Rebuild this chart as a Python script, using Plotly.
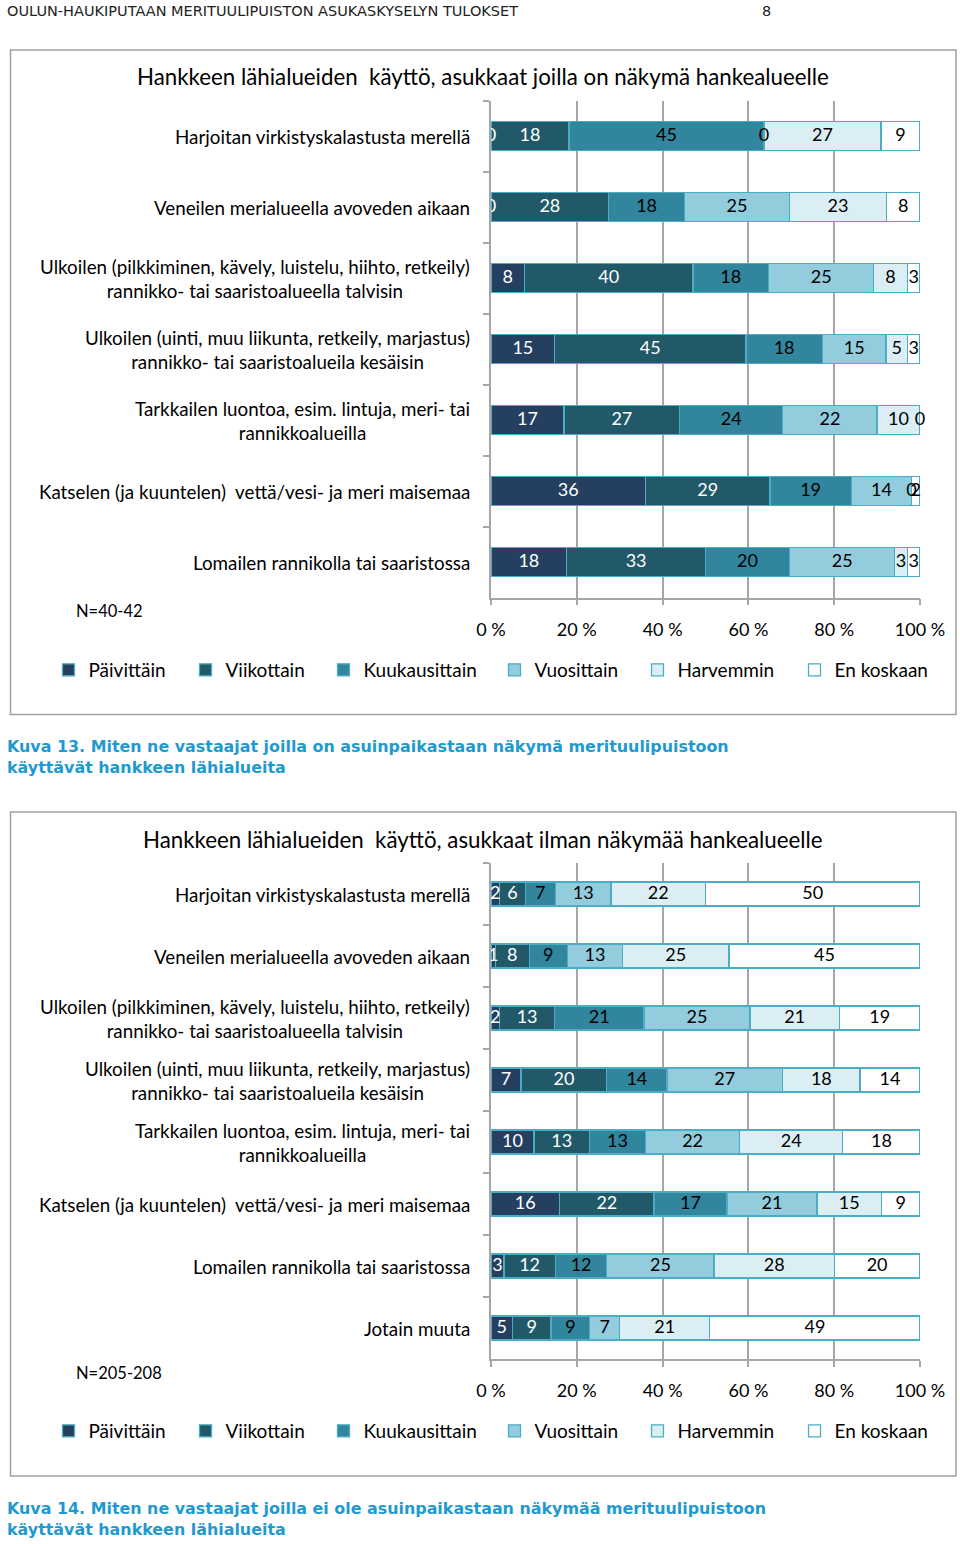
import plotly.graph_objects as go

# ---------------- data ----------------
series = ["Päivittäin", "Viikottain", "Kuukausittain", "Vuosittain", "Harvemmin", "En koskaan"]
colors = ["#243F60", "#215968", "#31859C", "#93CDDD", "#DBEEF4", "#FFFFFF"]
label_colors = ["white", "white", "black", "black", "black", "black"]

cats1 = [
    "Harjoitan virkistyskalastusta merellä",
    "Veneilen merialueella avoveden aikaan",
    "Ulkoilen (pilkkiminen, kävely, luistelu, hiihto, retkeily)<br>rannikko- tai saaristoalueella talvisin",
    "Ulkoilen (uinti, muu liikunta, retkeily, marjastus)<br>rannikko- tai saaristoalueila kesäisin",
    "Tarkkailen luontoa, esim. lintuja, meri- tai<br>rannikkoalueilla",
    "Katselen (ja kuuntelen)  vettä/vesi- ja meri maisemaa",
    "Lomailen rannikolla tai saaristossa",
]
paivittain1 = [0, 0, 8, 15, 17, 36, 18]
viikottain1 = [18, 28, 40, 45, 27, 29, 33]
kuukausittain1 = [45, 18, 18, 18, 24, 19, 20]
vuosittain1 = [0, 25, 25, 15, 22, 14, 25]
harvemmin1 = [27, 23, 8, 5, 10, 0, 3]
en_koskaan1 = [9, 8, 3, 3, 0, 2, 3]

cats2 = cats1 + ["Jotain muuta"]
paivittain2 = [2, 1, 2, 7, 10, 16, 3, 5]
viikottain2 = [6, 8, 13, 20, 13, 22, 12, 9]
kuukausittain2 = [7, 9, 21, 14, 13, 17, 12, 9]
vuosittain2 = [13, 13, 25, 27, 22, 21, 25, 7]
harvemmin2 = [22, 25, 21, 18, 24, 15, 28, 21]
en_koskaan2 = [50, 45, 19, 14, 18, 9, 20, 49]

title1 = "Hankkeen lähialueiden  käyttö, asukkaat joilla on näkymä hankealueelle"
title2 = "Hankkeen lähialueiden  käyttö, asukkaat ilman näkymää hankealueelle"
n1 = "N=40-42"
n2 = "N=205-208"
caption1 = "Kuva 13. Miten ne vastaajat joilla on asuinpaikastaan näkymä merituulipuistoon<br>käyttävät hankkeen lähialueita"
caption2 = "Kuva 14. Miten ne vastaajat joilla ei ole asuinpaikastaan näkymää merituulipuistoon<br>käyttävät hankkeen lähialueita"
header = "OULUN-HAUKIPUTAAN MERITUULIPUISTON ASUKASKYSELYN TULOKSET"
page_no = "8"
tick_vals = [0, 20, 40, 60, 80, 100]
tick_text = ["0 %", "20 %", "40 %", "60 %", "80 %", "100 %"]

data1 = [paivittain1, viikottain1, kuukausittain1, vuosittain1, harvemmin1, en_koskaan1]
data2 = [paivittain2, viikottain2, kuukausittain2, vuosittain2, harvemmin2, en_koskaan2]

# ---------------- layout helpers ----------------
W, H = 960, 1544
FONT = "Lato"
def px(x):
    return x / W
def py(y):
    return 1 - y / H

GRID = "#A6A6A6"
fig = go.Figure()

legend_sym_px = [68.5, 205.5, 343.5, 514.5, 657.5, 814.5]

def add_chart(cats, data, xa, ya, bar_w, legend_offset):
    n = len(cats)
    totals = [sum(d[i] for d in data) for i in range(n)]
    for k, (name, vals) in enumerate(zip(series, data)):
        lg = "legend" if legend_offset + k == 0 else f"legend{legend_offset + k + 1}"
        fig.add_trace(go.Bar(
            y=cats, x=vals, name=name, orientation="h",
            xaxis=xa, yaxis=ya, width=bar_w,
            marker=dict(color=colors[k], line=dict(color="#4BACC6", width=1.3)),
            legend=lg, hoverinfo="x+y+name",
        ))
    # data labels at segment centres (normalised to 100 %)
    xs, ys, ts, cs = [], [], [], []
    for i in range(n):
        cum = 0
        for k, vals in enumerate(data):
            v = vals[i]
            xs.append((cum + v / 2) / totals[i] * 100)
            ys.append(cats[i])
            ts.append(str(v))
            cs.append(label_colors[k])
            cum += v
    fig.add_trace(go.Scatter(
        x=xs, y=ys, text=ts, mode="text", xaxis=xa, yaxis=ya,
        textfont=dict(family=FONT, size=18, color=cs), showlegend=False,
        cliponaxis=False, hoverinfo="skip",
    ))

add_chart(cats1, data1, "x", "y", 0.41, 0)
add_chart(cats2, data2, "x2", "y2", 0.39, 6)

# legends
legends = {}
for c, ly in ((0, 670), (1, 1431)):
    for k in range(6):
        idx = c * 6 + k
        key = "legend" if idx == 0 else f"legend{idx + 1}"
        legends[key] = dict(
            x=px(legend_sym_px[k] - 20), xanchor="left", y=py(ly), yanchor="middle",
            orientation="h", bgcolor="rgba(0,0,0,0)", borderwidth=0,
            font=dict(family=FONT, size=19, color="black"), itemclick=False,
        )

axis_common_x = dict(
    range=[0, 100], tickvals=tick_vals, ticktext=tick_text,
    showgrid=True, gridcolor=GRID, gridwidth=1.5,
    showline=True, linecolor=GRID, linewidth=1.5,
    ticks="outside", ticklen=6, tickcolor=GRID, tickwidth=1.5,
    tickfont=dict(family=FONT, size=18, color="black"),
    ticklabelstandoff=9, zeroline=False, fixedrange=True,
)
axis_common_y = dict(
    type="category", autorange="reversed", showticklabels=False,
    showline=True, linecolor=GRID, linewidth=1.5,
    ticks="outside", ticklen=6, tickcolor=GRID, tickwidth=1.5,
    tickson="boundaries", showgrid=False, fixedrange=True,
)

annotations = []
for cats, yref in ((cats1, "y"), (cats2, "y2")):
    for c in cats:
        annotations.append(dict(
            text=c, x=px(472), xref="paper", xanchor="right", y=c, yref=yref,
            yanchor="middle", align="center", showarrow=False,
            font=dict(family=FONT, size=18.8, color="black"),
        ))
annotations += [
    dict(text=title1, x=px(483), y=py(77), xref="paper", yref="paper", xanchor="center",
         yanchor="middle", showarrow=False, font=dict(family=FONT, size=22.3, color="black")),
    dict(text=title2, x=px(483), y=py(839), xref="paper", yref="paper", xanchor="center",
         yanchor="middle", showarrow=False, font=dict(family=FONT, size=22.3, color="black")),
    dict(text=n1, x=px(74), y=py(611), xref="paper", yref="paper", xanchor="left",
         yanchor="middle", showarrow=False, font=dict(family=FONT, size=16.5, color="black")),
    dict(text=n2, x=px(74), y=py(1373), xref="paper", yref="paper", xanchor="left",
         yanchor="middle", showarrow=False, font=dict(family=FONT, size=16.5, color="black")),
    dict(text=caption1, x=px(5), y=py(735), xref="paper", yref="paper", xanchor="left",
         yanchor="top", align="left", showarrow=False,
         font=dict(family="DejaVu Sans", size=15.9, color="#1E9AD0", weight="bold")),
    dict(text=caption2, x=px(5), y=py(1497), xref="paper", yref="paper", xanchor="left",
         yanchor="top", align="left", showarrow=False,
         font=dict(family="DejaVu Sans", size=15.9, color="#1E9AD0", weight="bold")),
    dict(text=header, x=px(5), y=py(1), xref="paper", yref="paper", xanchor="left",
         yanchor="top", showarrow=False, font=dict(family="DejaVu Sans", size=14.5, color="#222")),
    dict(text=page_no, x=px(766), y=py(1), xref="paper", yref="paper", xanchor="center",
         yanchor="top", showarrow=False, font=dict(family="DejaVu Sans", size=14.5, color="#222")),
]

shapes = [
    dict(type="rect", xref="paper", yref="paper", x0=px(10.5), x1=px(956), y0=py(50), y1=py(714.5),
         line=dict(color="#A0A0A0", width=1.5), fillcolor="rgba(0,0,0,0)", layer="below"),
    dict(type="rect", xref="paper", yref="paper", x0=px(10.5), x1=px(956), y0=py(812), y1=py(1476),
         line=dict(color="#A0A0A0", width=1.5), fillcolor="rgba(0,0,0,0)", layer="below"),
]

fig.update_layout(
    width=W, height=H, margin=dict(l=0, r=0, t=0, b=0, pad=0, autoexpand=False),
    paper_bgcolor="white", plot_bgcolor="white",
    barmode="stack", barnorm="percent",
    xaxis=dict(domain=[px(491), px(920)], anchor="y", **axis_common_x),
    yaxis=dict(domain=[py(597.5), py(100.5)], anchor="x", **axis_common_y),
    xaxis2=dict(domain=[px(491), px(920)], anchor="y2", **axis_common_x),
    yaxis2=dict(domain=[py(1359), py(863)], anchor="x2", **axis_common_y),
    annotations=annotations, shapes=shapes,
    **legends,
)

fig.write_html(
    "out.html",
    config={"displayModeBar": False},
    post_script="document.body.style.margin='0';document.body.style.overflow='hidden';",
)
